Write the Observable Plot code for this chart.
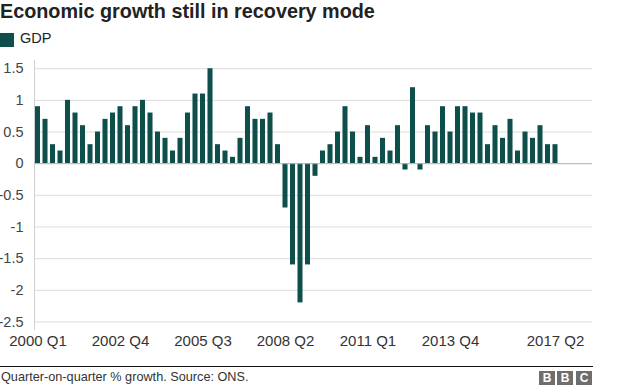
<!DOCTYPE html>
<html>
<head>
<meta charset="utf-8">
<script src="https://cdn.jsdelivr.net/npm/d3@7"></script>
<script src="https://cdn.jsdelivr.net/npm/@observablehq/plot@0.6"></script>
<style>
  html, body { margin: 0; padding: 0; background: #fff; }
  body { width: 624px; height: 390px; position: relative; overflow: hidden; font-family: "Liberation Sans", Arial, Helvetica, sans-serif; }
  #title { position: absolute; left: 0; top: 0; font-weight: bold; font-size: 19.8px; line-height: 22px; color: #222; white-space: nowrap; }
  #legend { position: absolute; left: 0; top: 30px; font-size: 14.5px; line-height: 16px; color: #222; }
  #legend .sw { position: absolute; left: 0; top: 3px; width: 14px; height: 14px; background: #0e4f4c; }
  #legend .lb { position: absolute; left: 20px; top: 0; white-space: nowrap; }
  #chart { position: absolute; left: 0; top: 52px; }
  #rule { position: absolute; left: 0; top: 366px; width: 593px; height: 1px; background: #111; }
  #caption { position: absolute; left: 1px; top: 370px; font-size: 12.7px; line-height: 14px; color: #333; white-space: nowrap; }
  #logo { position: absolute; left: 539px; top: 371px; height: 14px; }
  #logo span { position: absolute; top: 0; width: 16px; height: 14px; background: #6e6e6e; color: #fff; font-weight: bold; font-size: 12px; line-height: 14px; text-align: center; }
</style>
</head>
<body>
<div id="title">Economic growth still in recovery mode</div>
<div id="legend"><div class="sw"></div><div class="lb">GDP</div></div>
<div id="chart"></div>
<div id="rule"></div>
<div id="caption">Quarter-on-quarter % growth. Source: ONS.</div>
<div id="logo"><span style="left:0">B</span><span style="left:18px">B</span><span style="left:37px">C</span></div>
<script>
// Quarter labels for the x axis band domain (2000 Q1 .. 2018 Q2)
const years = d3.range(2000, 2019);
const quarterNames = ["Q1", "Q2", "Q3", "Q4"];
const quarters = years.flatMap(y => quarterNames.map(q => `${y} ${q}`)).slice(0, 74);

// GDP quarter-on-quarter % growth, 2000 Q1 .. 2017 Q2
const gdp = [0.9, 0.7, 0.3, 0.2, 1.0, 0.8, 0.6, 0.3, 0.5, 0.7,
             0.8, 0.9, 0.6, 0.9, 1.0, 0.8, 0.5, 0.4, 0.2, 0.4,
             0.8, 1.1, 1.1, 1.5, 0.3, 0.2, 0.1, 0.4, 0.9, 0.7,
             0.7, 0.8, 0.3, -0.7, -1.6, -2.2, -1.6, -0.2, 0.2, 0.3,
             0.5, 0.9, 0.5, 0.1, 0.6, 0.1, 0.4, 0.2, 0.6, -0.1,
             1.2, -0.1, 0.6, 0.5, 0.9, 0.5, 0.9, 0.9, 0.8, 0.8,
             0.3, 0.6, 0.4, 0.7, 0.2, 0.5, 0.4, 0.6, 0.3, 0.3];

const xTickLabels = ["2000 Q1", "2002 Q4", "2005 Q3", "2008 Q2", "2011 Q1", "2013 Q4", "2017 Q2"];
const yTickValues = [1.5, 1, 0.5, 0, -0.5, -1, -1.5, -2, -2.5];

const data = gdp.map((v, i) => ({quarter: quarters[i], value: v}));

const chart = Plot.plot({
  width: 624,
  height: 305,
  marginTop: 8,
  marginBottom: 28,
  marginLeft: 34,
  marginRight: 32,
  style: {fontFamily: "'Liberation Sans', Arial, Helvetica, sans-serif", background: "transparent"},
  x: {type: "band", domain: quarters, paddingInner: 0.33, paddingOuter: 0.365, align: 0.18, label: null},
  y: {domain: [-2.62, 1.63], label: null},
  marks: [
    Plot.gridY(yTickValues, {stroke: "#dcdcdc", strokeOpacity: 1}),
    Plot.frame({anchor: "left", stroke: "#d0d0d0"}),
    Plot.barY(data, {x: "quarter", y: "value", fill: "#0e4f4c"}),
    Plot.ruleY([0], {stroke: "#b8b8b8"}),
    Plot.axisY(yTickValues, {tickSize: 0, tickPadding: 11, fontSize: 14.5, fill: "#444", label: null, tickFormat: d => String(d)}),
    Plot.axisX(xTickLabels, {tickSize: 0, tickPadding: 6, fontSize: 15, fill: "#333", label: null})
  ]
});
document.getElementById("chart").appendChild(chart);
</script>
</body>
</html>
